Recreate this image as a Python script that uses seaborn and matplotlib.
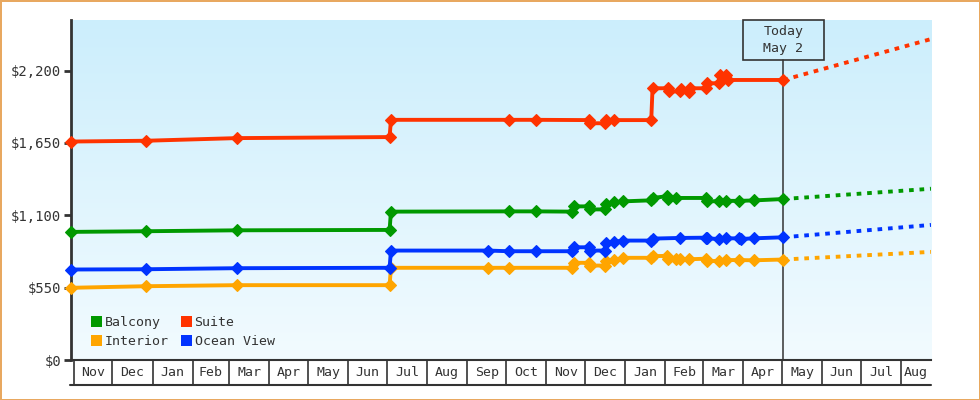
import numpy as np
import pandas as pd
import matplotlib
matplotlib.use("Agg")
import matplotlib.pyplot as plt
import matplotlib.dates as mdates
from matplotlib.patches import Patch, Rectangle
from matplotlib.colors import LinearSegmentedColormap
from matplotlib.ticker import FixedLocator, FixedFormatter, NullFormatter
import matplotlib.transforms as mtransforms
import seaborn as sns

# ---------------- data ----------------
suite_dates = ["2022-10-30", "2022-12-27", "2023-03-07", "2023-07-03", "2023-07-04",
               "2023-10-03", "2023-10-24", "2023-12-04", "2023-12-05", "2023-12-16",
               "2023-12-17", "2023-12-23", "2024-01-21", "2024-01-22", "2024-02-03",
               "2024-02-04", "2024-02-12", "2024-02-13", "2024-02-19", "2024-02-20",
               "2024-03-03", "2024-03-04", "2024-03-13", "2024-03-14", "2024-03-19",
               "2024-03-20", "2024-05-02"]
suite_prices = [1661, 1667, 1687, 1695, 1826,
                1826, 1826, 1824, 1800, 1800,
                1824, 1824, 1824, 2066, 2066,
                2042, 2042, 2060, 2040, 2066,
                2066, 2104, 2104, 2167, 2167,
                2129, 2129]

balcony_dates = ["2022-10-30", "2022-12-27", "2023-03-07", "2023-07-03", "2023-07-04",
                 "2023-10-03", "2023-10-24", "2023-11-21", "2023-11-22", "2023-12-04",
                 "2023-12-05", "2023-12-16", "2023-12-17", "2023-12-23", "2023-12-30",
                 "2024-01-21", "2024-01-22", "2024-02-02", "2024-02-03", "2024-02-09",
                 "2024-03-03", "2024-03-04", "2024-03-13", "2024-03-19", "2024-03-29",
                 "2024-04-09", "2024-05-02"]
balcony_prices = [974, 979, 986, 989, 1128,
                  1130, 1130, 1128, 1168, 1168,
                  1145, 1145, 1189, 1198, 1206,
                  1214, 1232, 1245, 1225, 1232,
                  1232, 1206, 1208, 1210, 1210,
                  1213, 1224]

ocean_dates = ["2022-10-30", "2022-12-27", "2023-03-07", "2023-07-03", "2023-07-04",
               "2023-09-17", "2023-10-03", "2023-10-24", "2023-11-21", "2023-11-22",
               "2023-12-04", "2023-12-05", "2023-12-16", "2023-12-17", "2023-12-23",
               "2023-12-30", "2024-01-21", "2024-01-22", "2024-02-12", "2024-03-03",
               "2024-03-04", "2024-03-13", "2024-03-19", "2024-03-29", "2024-03-30",
               "2024-04-09", "2024-05-02"]
ocean_prices = [688, 690, 698, 701, 832,
                832, 827, 827, 827, 857,
                857, 832, 832, 890, 898,
                908, 908, 923, 928, 930,
                925, 920, 925, 925, 920,
                925, 933]

interior_dates = ["2022-10-30", "2022-12-27", "2023-03-07", "2023-07-03", "2023-07-04",
                  "2023-09-17", "2023-10-03", "2023-11-21", "2023-11-22", "2023-12-04",
                  "2023-12-05", "2023-12-16", "2023-12-17", "2023-12-23", "2023-12-30",
                  "2024-01-21", "2024-01-22", "2024-02-02", "2024-02-03", "2024-02-09",
                  "2024-02-12", "2024-02-19", "2024-03-03", "2024-03-04", "2024-03-13",
                  "2024-03-19", "2024-03-29", "2024-04-09", "2024-05-02"]
interior_prices = [549, 561, 569, 569, 701,
                   701, 701, 701, 739, 739,
                   718, 718, 756, 758, 777,
                   777, 789, 792, 770, 770,
                   768, 766, 770, 752, 753,
                   760, 760, 758, 764]

forecast_dates = ["2024-05-02", "2024-08-24"]
suite_forecast = [2129, 2440]
balcony_forecast = [1224, 1302]
ocean_forecast = [933, 1027]
interior_forecast = [764, 822]

series_names = ["Balcony", "Interior", "Suite", "Ocean View"]
series_colors = ["#009900", "#ffa500", "#ff3300", "#0033ff"]

month_labels = ["Nov", "Dec", "Jan", "Feb", "Mar", "Apr", "May", "Jun", "Jul", "Aug", "Sep",
                "Oct", "Nov", "Dec", "Jan", "Feb", "Mar", "Apr", "May", "Jun", "Jul", "Aug"]
ytick_values = [0, 550, 1100, 1650, 2200]
ytick_labels = ["$0", "$550", "$1,100", "$1,650", "$2,200"]

today_date = "2024-05-02"
today_label = "Today\nMay 2"
x_start, x_end = "2022-10-30", "2024-08-24"
y_max = 2585

# ---------------- style ----------------
sns.set_style("white")
plt.rcParams["font.family"] = ["DejaVu Sans Mono", "DejaVu Sans"]
text_color = "#333333"

fig = plt.figure(figsize=(9.8, 4), dpi=100)
fig.patch.set_facecolor("white")
fig.patch.set_edgecolor("#e8a860")
fig.patch.set_linewidth(2.0)

rect = [71 / 980, 40 / 400, 860 / 980, 340 / 400]
bg = fig.add_axes(rect, zorder=0)
grad = np.linspace(0, 1, 256).reshape(-1, 1)
cmap = LinearSegmentedColormap.from_list("bg", ["#ccEEFC", "#F2FBFF"])
bg.imshow(grad, aspect="auto", cmap=cmap, extent=(0, 1, 0, 1), origin="upper")
bg.set_axis_off()

ax = fig.add_axes(rect, zorder=1)
ax.set_facecolor("none")

sets = {
    "Balcony": (balcony_dates, balcony_prices, balcony_forecast),
    "Interior": (interior_dates, interior_prices, interior_forecast),
    "Suite": (suite_dates, suite_prices, suite_forecast),
    "Ocean View": (ocean_dates, ocean_prices, ocean_forecast),
}
fdates = pd.to_datetime(forecast_dates)
for name, color in zip(series_names, series_colors):
    d, p, f = sets[name]
    sns.lineplot(x=pd.to_datetime(d), y=p, ax=ax, color=color, lw=2.8,
                 marker="D", markersize=5.8, markeredgewidth=0.8, markeredgecolor=color,
                 estimator=None, sort=False, legend=False, clip_on=False, zorder=4)
    sns.lineplot(x=fdates, y=f, ax=ax, color=color, lw=2.8,
                 linestyle=(0, (1.2, 1.5)), estimator=None, sort=False,
                 legend=False, zorder=4)

xs, xe = pd.Timestamp(x_start), pd.Timestamp(x_end)
ax.set_xlim(xs, xe)
ax.set_ylim(0, y_max)

# y axis
ax.yaxis.set_major_locator(FixedLocator(ytick_values))
ax.yaxis.set_major_formatter(FixedFormatter(ytick_labels))
ax.tick_params(axis="y", which="major", direction="out", length=5, width=2,
               color=text_color, labelcolor=text_color, labelsize=10, pad=2, left=True)

# x axis: month boxes
month_starts = pd.date_range("2022-11-01", "2024-08-01", freq="MS")
ax.xaxis.set_major_locator(FixedLocator(mdates.date2num(month_starts)))
ax.xaxis.set_major_formatter(NullFormatter())
ends = list(month_starts[1:]) + [xe]
centers = [mdates.date2num(s) + (mdates.date2num(min(e, xe)) - mdates.date2num(s)) / 2
           for s, e in zip(month_starts, ends)]
ax.xaxis.set_minor_locator(FixedLocator(centers))
ax.xaxis.set_minor_formatter(FixedFormatter(month_labels))
ax.tick_params(axis="x", which="major", direction="out", length=18.5, width=1.2,
               color=text_color, bottom=True)
ax.tick_params(axis="x", which="minor", length=0, labelsize=9.5, labelcolor=text_color,
               pad=4.5, bottom=True)

for s in ["top", "right"]:
    ax.spines[s].set_visible(False)
ax.spines["left"].set_color(text_color)
ax.spines["left"].set_linewidth(2)
ax.spines["bottom"].set_color(text_color)
ax.spines["bottom"].set_linewidth(1.5)
ax.plot([-0.0012, 1], [-25 / 340, -25 / 340], transform=ax.transAxes, color=text_color,
        lw=1.5, clip_on=False, zorder=5)

# today marker
td = pd.Timestamp(today_date)
box_h = 40 / 340
ax.plot([td, td], [0, 1 - box_h], transform=ax.get_xaxis_transform(),
        color=text_color, lw=1.1, zorder=3)
blend = mtransforms.blended_transform_factory(ax.transData, ax.transAxes)
half_w = pd.Timedelta(days=31)
ax.add_patch(Rectangle((mdates.date2num(td - half_w), 1 - box_h),
                       mdates.date2num(td + half_w) - mdates.date2num(td - half_w), box_h,
                       transform=blend, facecolor="none", edgecolor=text_color, lw=1.2,
                       clip_on=False, zorder=5))
ax.text(td, 1 - box_h / 2, today_label, transform=blend, ha="center", va="center",
        fontsize=9.5, color=text_color, linespacing=1.45, zorder=6)

# legend
handles = [Patch(facecolor=c, edgecolor="none", label=n)
           for n, c in zip(series_names, series_colors)]
ax.legend(handles=handles, ncol=2, loc="lower left", bbox_to_anchor=(20 / 860, 12 / 340),
          frameon=False, fontsize=9.5, handlelength=0.85, handleheight=0.85,
          handletextpad=0.2, columnspacing=0.9, labelspacing=0.45, borderpad=0,
          borderaxespad=0, labelcolor=text_color)

ax.set_xlabel("")
ax.set_ylabel("")
fig.savefig("out.png", dpi=100, facecolor=fig.get_facecolor(),
            edgecolor=fig.get_edgecolor())
